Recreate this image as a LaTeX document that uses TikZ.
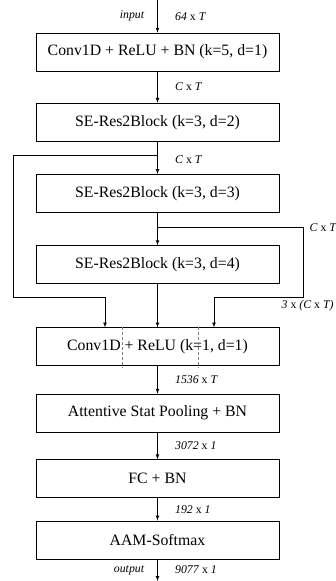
\documentclass[tikz,border=0pt]{standalone}
\usepackage{fontspec}
\setmainfont{Liberation Serif}
\usetikzlibrary{arrows,positioning,calc}

\begin{document}
\begin{tikzpicture}[
        x=1pt, y=1pt,
        block/.style={rectangle, draw, minimum width=243pt, minimum height=38pt, inner sep=0pt, font=\fontsize{15.8}{19}\selectfont},
        dim/.style={font=\fontsize{11.8}{14}\selectfont},
        sep/.style={draw=gray, dashed, dash pattern=on 3pt off 2pt, line width=0.6pt},
        >=latex,
        line width=0.7pt
    ]
        \useasboundingbox (0,0) rectangle (335,-581);

        \node[block] (conv) at (157.5,-52) {Conv1D + ReLU + BN (k=5, d=1)};
        \node[block, below=31.5pt of conv] (res1) {SE-Res2Block (k=3, d=2)};
        \node[block, below=32.5pt of res1] (res2) {SE-Res2Block (k=3, d=3)};
        \node[block, below=32.5pt of res2] (res3) {SE-Res2Block (k=3, d=4)};
        \node[block, below=43.5pt of res3] (cat) {Conv1D + ReLU (k=1, d=1)};
        \node[block, below=27.5pt of cat] (pool) {Attentive Stat Pooling + BN};
        \node[block, below=27pt of pool] (fc) {FC + BN};
        \node[block, below=22.5pt of fc] (aam) {AAM-Softmax};

        \coordinate (in) at (157.5,0);
        \coordinate (out) at (157.5,-581);

        % main chain
        \draw[->] (in) -- node[dim, left=9.5pt] {\textit{input}} node[dim, right=14pt] {\textit{64} x \textit{T}} (conv);
        \draw[->] (conv) -- node[dim, right=14pt] {\textit{C} x \textit{T}} (res1);
        \draw[->] (res1) -- node[dim, right=14pt, yshift=-1.5pt] {\textit{C} x \textit{T}} (res2);
        \draw[->] (res2) -- (res3);
        \draw[->] (res3) -- (cat);
        \draw[->] (cat) -- node[dim, right=14pt] {\textit{1536} x \textit{T}} (pool);
        \draw[->] (pool) -- node[dim, right=14pt] {\textit{3072} x \textit{1}} (fc);
        \draw[->] (fc) -- node[dim, right=14pt] {\textit{192} x \textit{1}} (aam);
        \draw[->] (aam) -- node[dim, left=9.5pt] {\textit{output}} node[dim, right=14pt] {\textit{9077} x \textit{1}} (out);

        % skip connections into the concat layer
        \coordinate (tap1) at ($(res1.south)!0.42!(res2.north)$);
        \coordinate (tap2) at ($(res2.south)!0.45!(res3.north)$);
        \coordinate (join) at ($(res3.south)!0.3!(cat.north)$);
        \draw[->] (tap1) -- (13,0 |- tap1) -- (13,0 |- join) -- (105,0 |- join) -- (105,0 |- cat.north);
        \draw[->] (tap2) -- (303,0 |- tap2) -- (303,0 |- join) -- (214,0 |- join) -- (214,0 |- cat.north);
        \node[dim, anchor=west] at (306,0 |- tap2) {\textit{C} x \textit{T}};
        \node[dim, anchor=west] at (278,-306) {\textit{3} x \textit{(C} x \textit{T)}};

        % concat boundaries
        \draw[sep] (122,0 |- cat.north) -- ++(0,-41);
        \draw[sep] (198,0 |- cat.north) -- ++(0,-41);
    \end{tikzpicture}
\end{document}
